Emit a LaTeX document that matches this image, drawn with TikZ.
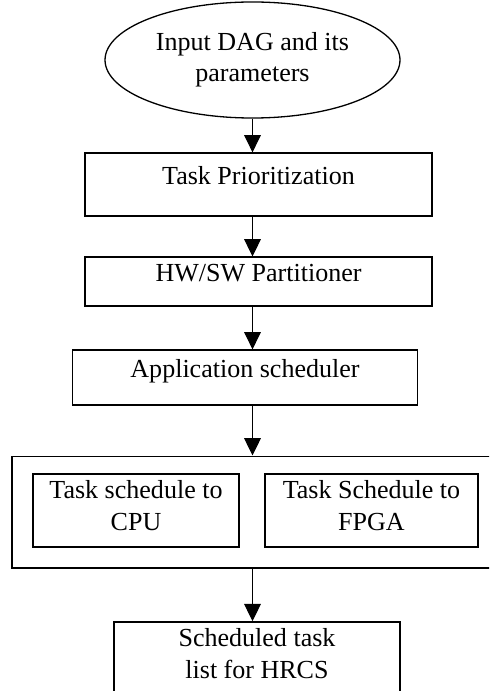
\documentclass[tikz,border=0pt]{standalone}
\usepackage{fontspec}
\setmainfont{Liberation Serif}
\usepackage{tikz}
\usetikzlibrary{positioning,shapes,arrows.meta,shapes.geometric}

\begin{document}
\begin{tikzpicture}[x=0.0162cm, y=-0.0162cm,
    every node/.style={font=\fontsize{12pt}{14.5pt}\selectfont, inner sep=0pt, align=center},
    block/.style={draw, line width=0.6pt, text height=0pt, text depth=0pt},
    arr/.style={line width=0.5pt, -{Triangle[length=0.28cm, width=0.27cm]}}]
                \clip (0,0) rectangle (489,691);
                % input
                \node[ellipse, draw, line width=0.6pt, minimum width=4.78cm, minimum height=1.88cm] (dag) at (252.5,60) {Input DAG and its\\parameters};
                % steps
                \node[block, minimum width=5.62cm, minimum height=1.02cm] (prio) at (258.5,184.5) {Task Prioritization};
                \node[block, minimum width=5.62cm, minimum height=0.79cm] (part) at (258.5,281.5) {HW/SW Partitioner};
                \node[block, minimum width=5.6cm, minimum height=0.89cm] (appl) at (245,377.5) {Application scheduler};
                % scheduling to both targets
                \node[draw, line width=0.6pt, minimum width=7.78cm, minimum height=1.81cm] (sched) at (252,512) {};
                \node[draw, line width=0.6pt, minimum width=3.34cm, minimum height=1.18cm, text depth=4.6pt] (cpu) at (136,510.5) {Task schedule to\\CPU};
                \node[draw, line width=0.6pt, minimum width=3.45cm, minimum height=1.18cm, text depth=4.6pt] (fpga) at (371.5,510.5) {Task Schedule to\\FPGA};
                % output
                \node[draw, line width=0.6pt, minimum width=4.63cm, minimum height=1.43cm, text depth=11.6pt] (list) at (257,666) {Scheduled task\\list for HRCS};
                \draw[arr] (dag.south) -- (prio.north -| dag.south);
                \draw[arr] (prio.south -| dag.south) -- (part.north -| dag.south);
                \draw[arr] (part.south -| dag.south) -- (appl.north -| dag.south);
                \draw[arr] (appl.south -| dag.south) -- (sched.north -| dag.south);
                \draw[arr] (sched.south -| dag.south) -- (list.north -| dag.south);
            \end{tikzpicture}
\end{document}
